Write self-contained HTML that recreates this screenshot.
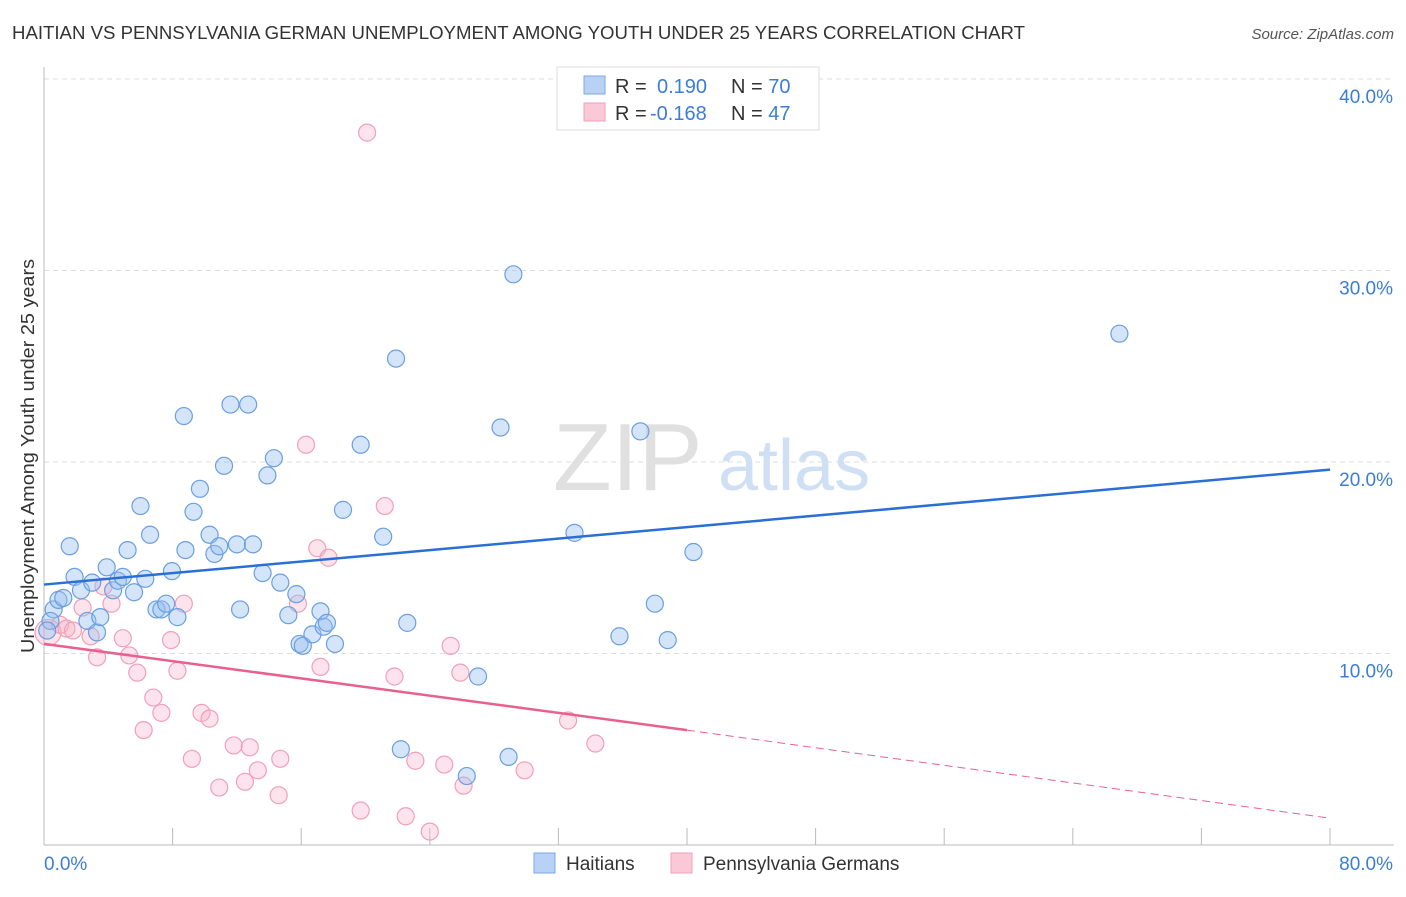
<!DOCTYPE html>
<html><head><meta charset="utf-8"><style>
body{margin:0;background:#fff;font-family:"Liberation Sans",sans-serif;}
svg text{font-family:"Liberation Sans",sans-serif;}
</style></head><body>
<svg id="chart" width="1406" height="892">
<text x="12" y="39" font-size="18" fill="#333" textLength="1013" lengthAdjust="spacingAndGlyphs">HAITIAN VS PENNSYLVANIA GERMAN UNEMPLOYMENT AMONG YOUTH UNDER 25 YEARS CORRELATION CHART</text>
<text x="1394" y="39" font-size="15" fill="#555" font-style="italic" text-anchor="end">Source: ZipAtlas.com</text>
<g id="grid"></g>
<g>
<text x="553" y="490" font-size="96" font-family="Liberation Serif,serif" fill="#e0e0e0">ZIP</text>
<text x="718" y="490" font-size="72" fill="#cfe0f4">atlas</text>
</g>
<g id="axes"></g>
<g id="marks"></g>
<text transform="translate(34,456) rotate(-90)" font-size="18" fill="#333" text-anchor="middle" textLength="394" lengthAdjust="spacingAndGlyphs">Unemployment Among Youth under 25 years</text>
<g>
<rect x="557" y="67" width="262" height="63" fill="#fff" stroke="#ddd"/>
<rect x="584" y="76" width="21" height="18" fill="#b8d2f5" stroke="#7aa8e6"/>
<rect x="584" y="103" width="21" height="18" fill="#fac8d6" stroke="#f0a0b8"/>
<text x="615" y="93" font-size="20" fill="#333">R = <tspan x="657" fill="#3b7dd8">0.190</tspan><tspan x="731" fill="#333">N = </tspan><tspan fill="#3b7dd8">70</tspan></text>
<text x="615" y="120" font-size="20" fill="#333">R = <tspan x="650" fill="#3b7dd8">-0.168</tspan><tspan x="731" fill="#333">N = </tspan><tspan fill="#3b7dd8">47</tspan></text>
</g>
<g>
<rect x="534" y="853" width="21" height="20" fill="#b8d2f5" stroke="#7aa8e6"/>
<text x="566" y="870" font-size="19" fill="#333">Haitians</text>
<rect x="671" y="853" width="21" height="20" fill="#fac8d6" stroke="#f0a0b8"/>
<text x="703" y="870" font-size="19" fill="#333">Pennsylvania Germans</text>
</g>
</svg>
<script>
const yTicks=[10,20,30,40];
const yTickLabels=["10.0%","20.0%","30.0%","40.0%"];
const xTicks=[0,8,16,24,32,40,48,56,64,72,80];
const xEndLabels=["0.0%","80.0%"];
const blueX=[0.6,0.9,1.2,1.6,1.9,2.3,2.7,3.0,3.3,3.5,3.9,4.3,4.6,4.9,5.2,5.6,6.0,6.3,6.6,7.0,7.3,7.6,7.96,8.3,8.7,8.8,9.3,9.7,10.3,10.6,10.9,11.2,11.6,12.0,12.2,12.7,13.0,13.6,13.9,14.3,14.7,15.2,15.7,15.9,16.1,16.7,17.2,17.4,17.6,18.1,18.6,19.7,21.1,21.9,22.2,22.6,26.3,27.0,28.4,28.9,29.2,33.0,35.8,37.1,38.0,38.8,40.4,66.9,0.4,0.2];
const blueY=[12.3,12.8,12.9,15.6,14.0,13.3,11.7,13.7,11.1,11.9,14.5,13.3,13.8,14.0,15.4,13.2,17.7,13.9,16.2,12.3,12.3,12.6,14.3,11.9,22.4,15.4,17.4,18.6,16.2,15.2,15.6,19.8,23.0,15.7,12.3,23.0,15.7,14.2,19.3,20.2,13.7,12.0,13.1,10.5,10.4,11.0,12.2,11.4,11.6,10.5,17.5,20.9,16.1,25.4,5.0,11.6,3.6,8.8,21.8,4.6,29.8,16.3,10.9,21.6,12.6,10.7,15.3,26.7,11.7,11.2];
const pinkX=[0.25,1.0,1.4,1.8,2.4,2.9,3.3,3.7,4.2,4.9,5.3,5.8,6.2,6.8,7.3,7.9,8.3,8.7,9.2,9.8,10.3,10.9,11.8,12.5,12.8,13.3,14.6,14.7,15.8,16.3,17.0,17.2,17.7,19.7,20.1,21.2,21.8,22.5,23.1,24.0,24.9,25.3,25.9,26.1,29.9,32.6,34.3];
const pinkY=[11.1,11.5,11.3,11.2,12.4,10.9,9.8,13.5,12.6,10.8,9.9,9.0,6.0,7.7,6.9,10.7,9.1,12.6,4.5,6.9,6.6,3.0,5.2,3.3,5.1,3.9,2.6,4.5,12.6,20.9,15.5,9.3,15.0,1.8,37.2,17.7,8.8,1.5,4.4,0.7,4.2,10.4,9.0,3.1,3.9,6.5,5.3];
const blueTrendX=[0,80], blueTrendY=[13.6,19.6];
const pinkTrendX=[0,40], pinkTrendY=[10.5,6.0];
const pinkDashX=[40,80], pinkDashY=[6.0,1.4];

const X0=44,X1=1330,Y0=845,YPER=19.15;
const sx=v=>X0+(v/80)*(X1-X0);
const sy=v=>Y0-v*YPER;
const NS="http://www.w3.org/2000/svg";
function mk(tag,attrs,parent){const e=document.createElementNS(NS,tag);for(const k in attrs)e.setAttribute(k,attrs[k]);parent.appendChild(e);return e;}
const grid=document.getElementById('grid'),axes=document.getElementById('axes'),marks=document.getElementById('marks');
yTicks.forEach((t,i)=>{
 const l=mk('line',{x1:44,x2:1394,y1:sy(t),y2:sy(t),stroke:'#ddd','stroke-dasharray':'5,4'},grid);
 
 
 const tx=mk('text',{x:1393,y:sy(t)+24,'font-size':19,fill:'#3b7dd8','text-anchor':'end'},axes);
 tx.textContent=yTickLabels[i];
 
 
});
const ax=mk('line',{x1:44,x2:1394,y1:Y0,y2:Y0,stroke:'#bbb'},axes);


const ay=mk('line',{x1:44,x2:44,y1:67,y2:Y0,stroke:'#bbb'},axes);


xTicks.forEach(t=>{
 const l=mk('line',{x1:sx(t),x2:sx(t),y1:Y0,y2:Y0-17,stroke:'#bbb'},axes);
 
 
});
[[0,44,'start'],[80,1393,'end']].forEach((d,i)=>{
 const tx=mk('text',{x:d[1],y:870,'font-size':19,fill:'#3b7dd8','text-anchor':d[2]},axes);
 tx.textContent=xEndLabels[i];
 
 
});
pinkX.forEach((x,i)=>{
 const c=mk('circle',{cx:sx(x),cy:sy(pinkY[i]),r:i==0?13:8.5,fill:'rgba(248,175,198,0.35)',stroke:'#f0a0b8','stroke-width':1.2},marks);
 
 
});
blueX.forEach((x,i)=>{
 const c=mk('circle',{cx:sx(x),cy:sy(blueY[i]),r:8.5,fill:'rgba(150,190,240,0.4)',stroke:'#6a9fe0','stroke-width':1.2},marks);
 
 
});
const bt=mk('line',{x1:sx(blueTrendX[0]),y1:sy(blueTrendY[0]),x2:sx(blueTrendX[1]),y2:sy(blueTrendY[1]),stroke:'#2a6fd6','stroke-width':2.5},marks);


const pt=mk('line',{x1:sx(pinkTrendX[0]),y1:sy(pinkTrendY[0]),x2:sx(pinkTrendX[1]),y2:sy(pinkTrendY[1]),stroke:'#e8608e','stroke-width':2.5},marks);


const pd=mk('line',{x1:sx(pinkDashX[0]),y1:sy(pinkDashY[0]),x2:sx(pinkDashX[1]),y2:sy(pinkDashY[1]),stroke:'#e8608e','stroke-width':1,'stroke-dasharray':'8,5'},marks);


</script>
</body></html>
